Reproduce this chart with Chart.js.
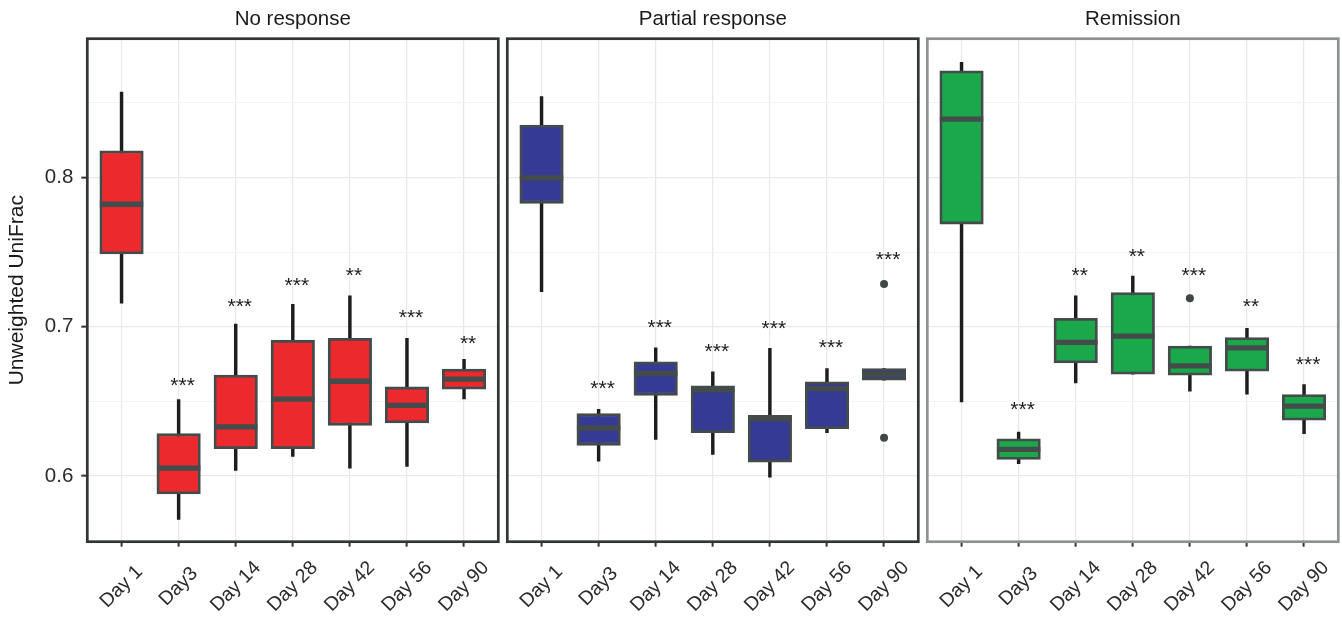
<!DOCTYPE html>
<html>
<head>
<meta charset="utf-8">
<script src="https://cdn.jsdelivr.net/npm/chart.js@4.4.0/dist/chart.umd.min.js"></script>
<style>
  body { margin: 0; background: #fff; }
  #wrap { position: relative; width: 1342px; height: 621px; overflow: hidden; }
  canvas { position: absolute; top: 0; }
</style>
</head>
<body>
<div id="wrap">
  <canvas id="c0" width="503" height="621" style="left:0px"></canvas>
  <canvas id="c1" width="422" height="621" style="left:503px"></canvas>
  <canvas id="c2" width="417" height="621" style="left:925px"></canvas>
</div>
<script>
const days = ['Day 1', 'Day3', 'Day 14', 'Day 28', 'Day 42', 'Day 56', 'Day 90'];
const groups = ['No response', 'Partial response', 'Remission'];
const yTicks = [0.6, 0.65, 0.7, 0.75, 0.8, 0.85];
const yMajor = [0.6, 0.7, 0.8];

// No response
const noLow  = [0.7157, 0.571, 0.6038, 0.6132, 0.6054, 0.6065, 0.6517];
const noQ1   = [0.7487, 0.5881, 0.6183, 0.6183, 0.634, 0.6356, 0.6582];
const noMed  = [0.782, 0.6054, 0.6329, 0.6515, 0.6635, 0.6474, 0.6649];
const noQ3   = [0.8178, 0.6284, 0.6676, 0.691, 0.6922, 0.6597, 0.6716];
const noHigh = [0.857, 0.6512, 0.7018, 0.715, 0.7206, 0.6922, 0.6781];
const noOut  = [];
const noStars   = ['', '***', '***', '***', '**', '***', '**'];
const noStarsAt = [0, 0.6642, 0.7174, 0.7313, 0.738, 0.710, 0.6922];

// Partial response
const partLow  = [0.7234, 0.610, 0.6246, 0.6145, 0.5993, 0.6291, 0.6642];
const partQ1   = [0.7826, 0.6206, 0.6541, 0.6291, 0.6094, 0.6318, 0.6642];
const partMed  = [0.7997, 0.6322, 0.6687, 0.6577, 0.6383, 0.6586, 0.6682];
const partQ3   = [0.835, 0.6418, 0.6765, 0.6604, 0.6407, 0.6631, 0.672];
const partHigh = [0.854, 0.6447, 0.6859, 0.6698, 0.6855, 0.672, 0.672];
const partOut  = [{ x: 6, y: 0.7286 }, { x: 6, y: 0.6257 }];
const partStars   = ['', '***', '***', '***', '***', '***', '***'];
const partStarsAt = [0, 0.662, 0.7033, 0.6873, 0.7023, 0.6895, 0.7487];

// Remission
const remLow  = [0.6497, 0.6083, 0.6624, 0.6682, 0.6568, 0.6548, 0.6284];
const remQ1   = [0.7687, 0.6112, 0.6758, 0.6682, 0.6676, 0.6702, 0.6374];
const remMed  = [0.839, 0.6179, 0.6895, 0.6937, 0.6738, 0.6859, 0.6468];
const remQ3   = [0.8713, 0.625, 0.7056, 0.7228, 0.687, 0.6928, 0.6546];
const remHigh = [0.877, 0.6295, 0.7206, 0.7339, 0.687, 0.6989, 0.6613];
const remOut  = [{ x: 4, y: 0.719 }];
const remStars   = ['', '***', '**', '**', '***', '**', '***'];
const remStarsAt = [0, 0.6481, 0.738, 0.7509, 0.738, 0.7174, 0.6783];

Chart.defaults.font.family = "'Liberation Sans', Arial, sans-serif";
Chart.defaults.color = '#2b2b2b';

const FONT = "'Liberation Sans', Arial, sans-serif";

// significance marks above each box
const starPlugin = {
  id: 'stars',
  afterDatasetsDraw(chart, args, opts) {
    const { ctx, scales: { x, y } } = chart;
    ctx.save();
    ctx.font = '21px ' + FONT;
    ctx.fillStyle = '#1e1e1e';
    ctx.textAlign = 'center';
    ctx.textBaseline = 'alphabetic';
    opts.text.forEach((t, i) => {
      if (!t) return;
      ctx.fillText(t, x.getPixelForValue(i) + 4, y.getPixelForValue(opts.at[i]) + 12);
    });
    ctx.restore();
  }
};

// panel frame + rotated day labels centred under the ticks
const framePlugin = {
  id: 'frame',
  afterDraw(chart, args, opts) {
    const { ctx, chartArea: a, scales: { x } } = chart;
    ctx.save();
    ctx.strokeStyle = opts.color;
    ctx.lineWidth = 2.7;
    ctx.strokeRect(a.left, a.top, a.right - a.left, a.bottom - a.top);
    ctx.font = '19.5px ' + FONT;
    ctx.fillStyle = '#2b2b2b';
    ctx.textAlign = 'center';
    ctx.textBaseline = 'middle';
    days.forEach((d, i) => {
      ctx.save();
      ctx.translate(x.getPixelForValue(i), a.bottom + 45);
      ctx.rotate(-Math.PI / 4);
      ctx.fillText(d, 0, 0);
      ctx.restore();
    });
    ctx.restore();
  }
};

const genPanel = (id, title, p) => {
  const idx = days.map((d, i) => i);
  const first = p.yWidth > 20;

  return new Chart(id, {
    type: 'bar',
    data: {
      datasets: [{
        label: 'whisker',
        data: idx.map(i => ({ x: i, y: [p.low[i], p.high[i]] })),
        backgroundColor: '#1d1d1d',
        barThickness: 2.8,
        grouped: false,
        order: 3
      }, {
        label: 'box',
        data: idx.map(i => ({ x: i, y: [p.q1[i], p.q3[i]] })),
        backgroundColor: p.fill,
        borderColor: '#434b4b',
        borderWidth: 2.8,
        borderSkipped: false,
        barThickness: 43.5,
        grouped: false,
        order: 2
      }, {
        type: 'line',
        label: 'median',
        data: idx.map(i => ({ x: i, y: p.med[i] })),
        showLine: false,
        pointStyle: 'line',
        pointRadius: 21.7,
        pointBorderWidth: 5.3,
        pointBorderColor: '#434b4b',
        order: 1
      }, {
        type: 'line',
        label: 'outlier',
        data: p.out,
        showLine: false,
        pointRadius: 4,
        pointBorderWidth: 0,
        pointBackgroundColor: '#3f4747',
        order: 0
      }]
    },
    options: {
      responsive: false,
      animation: false,
      events: [],
      layout: { autoPadding: false, padding: { left: 0, right: p.rightPad, top: 0, bottom: 0 } },
      plugins: {
        legend: { display: false },
        tooltip: { enabled: false },
        title: {
          display: true,
          text: title,
          fullSize: false,
          color: '#1a1a1a',
          font: { size: 20.5, weight: 'normal', lineHeight: 1.2 },
          padding: { top: 7.4, bottom: 6.7 }
        },
        stars: { text: p.stars, at: p.starsAt },
        frame: { color: p.frame }
      },
      scales: {
        x: {
          type: 'linear',
          min: -0.6,
          max: 6.6,
          offset: false,
          afterBuildTicks: s => { s.ticks = idx.map(i => ({ value: i })); },
          afterFit: s => { s.height = 79.3; },
          border: { display: false },
          ticks: { display: false },
          grid: {
            offset: false,
            color: '#e7e7ec',
            lineWidth: 1.2,
            drawTicks: true,
            tickLength: 5,
            tickColor: '#333',
            tickWidth: 2
          }
        },
        y: {
          min: 0.5561,
          max: 0.8928,
          afterBuildTicks: s => { s.ticks = yTicks.map(v => ({ value: v })); },
          afterFit: s => { s.width = p.yWidth; },
          border: { display: false },
          title: {
            display: first,
            text: 'Unweighted UniFrac',
            color: '#1a1a1a',
            font: { size: 21, lineHeight: 1.2 },
            padding: { top: 5, bottom: 0 }
          },
          ticks: {
            display: first,
            color: '#2b2b2b',
            font: { size: 20.5 },
            padding: 8,
            callback: v => yMajor.includes(v) ? v.toFixed(1) : ''
          },
          grid: {
            color: c => (c.tick && yMajor.includes(c.tick.value)) ? '#e9e9ec' : '#f4f4f4',
            lineWidth: c => (c.tick && yMajor.includes(c.tick.value)) ? 1.3 : 1,
            drawTicks: first,
            tickLength: 6,
            tickWidth: 2,
            tickColor: c => (c.tick && yMajor.includes(c.tick.value)) ? '#333' : 'rgba(0,0,0,0)'
          }
        }
      }
    },
    plugins: [starPlugin, framePlugin]
  });
};

genPanel('c0', groups[0], {
  low: noLow, q1: noQ1, med: noMed, q3: noQ3, high: noHigh, out: noOut,
  stars: noStars, starsAt: noStarsAt,
  fill: '#ec2a2e', frame: '#2e3636', yWidth: 87.3, rightPad: 4.7
});
genPanel('c1', groups[1], {
  low: partLow, q1: partQ1, med: partMed, q3: partQ3, high: partHigh, out: partOut,
  stars: partStars, starsAt: partStarsAt,
  fill: '#353a95', frame: '#2e3636', yWidth: 4.3, rightPad: 6.7
});
genPanel('c2', groups[2], {
  low: remLow, q1: remQ1, med: remMed, q3: remQ3, high: remHigh, out: remOut,
  stars: remStars, starsAt: remStarsAt,
  fill: '#1aa84b', frame: '#8c9292', yWidth: 2.3, rightPad: 3.7
});
</script>
</body>
</html>
